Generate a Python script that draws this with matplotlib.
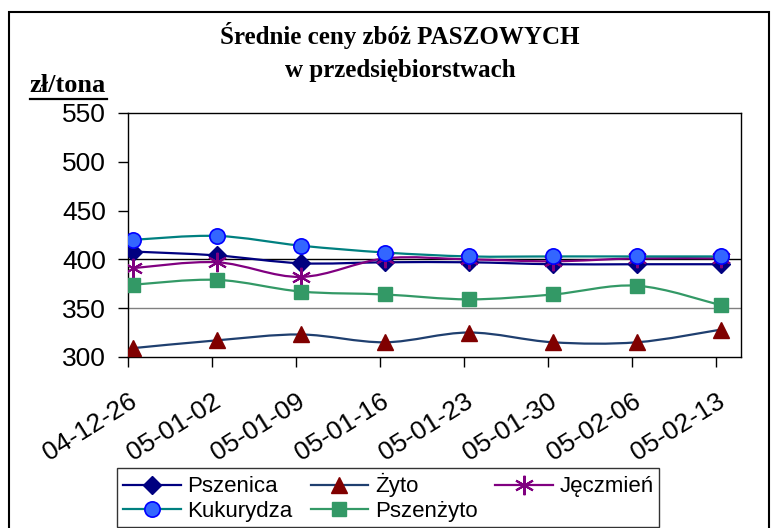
import matplotlib
matplotlib.use("Agg")
import matplotlib.pyplot as plt
from matplotlib.path import Path
from matplotlib.patches import PathPatch, Rectangle
from matplotlib.lines import Line2D

# dates (tick labels)
dates = ["04-12-26", "05-01-02", "05-01-09", "05-01-16",
         "05-01-23", "05-01-30", "05-02-06", "05-02-13"]

# prices, zl/tona
pszenica = [408, 404, 396, 397, 397, 395, 395, 395]
zyto = [309, 317, 323, 315, 325, 315, 315, 328]
jeczmien = [391, 397, 382, 401, 400, 398, 401, 401]
kukurydza = [420, 424, 414, 407, 403, 403, 403, 403]
pszenzyto = [374, 379, 367, 364, 359, 364, 373, 353]


def smooth_path(xs, ys):
    # excel-like smoothed line: cubic bezier segments through the points
    n = len(xs)
    verts = [(xs[0], ys[0])]
    codes = [Path.MOVETO]
    for i in range(n - 1):
        i0 = max(i - 1, 0)
        i3 = min(i + 2, n - 1)
        c1 = (xs[i] + (xs[i + 1] - xs[i0]) / 6, ys[i] + (ys[i + 1] - ys[i0]) / 6)
        c2 = (xs[i + 1] - (xs[i3] - xs[i]) / 6, ys[i + 1] - (ys[i3] - ys[i]) / 6)
        verts += [c1, c2, (xs[i + 1], ys[i + 1])]
        codes += [Path.CURVE4] * 3
    return Path(verts, codes)


fig = plt.figure(figsize=(7.78, 5.28), dpi=100)
ax = fig.add_axes([0.1645, 0.324, 0.788, 0.462])

series = [
    ("Pszenica", pszenica, "#000080", dict(marker="D", ms=9, mfc="#000080", mec="#000080")),
    ("Żyto", zyto, "#1F3F6F", dict(marker="^", ms=12, mfc="#800000", mec="#800000")),
    ("Jęczmień", jeczmien, "#800080", dict(marker=(6, 2, 0), ms=14, mfc="#800080", mec="#800080", mew=1.5)),
    ("Kukurydza", kukurydza, "#008080", dict(marker="o", ms=11, mfc="#3366FF", mec="#0000FF", mew=1.2)),
    ("Pszenżyto", pszenzyto, "#339966", dict(marker="s", ms=10, mfc="#339966", mec="#339966")),
]

x = list(range(len(dates)))
handles = {}
for name, vals, col, mk in series:
    ax.add_patch(PathPatch(smooth_path(x, vals), fill=False, edgecolor=col, lw=1.6, zorder=3))
    ax.plot(x, vals, linestyle="none", zorder=4, **mk)
    handles[name] = Line2D([], [], color=col, lw=1.6, **mk)

ax.axhline(400, color="black", lw=1, zorder=1)
ax.axhline(350, color="#808080", lw=1, zorder=1)

ax.set_xlim(-0.06, 7.24)
ax.set_ylim(300, 550)
ax.set_yticks(range(300, 551, 50))
# excel puts the category ticks a few pixels left of the points
ax.set_xticks([i - 0.06 for i in x])
ax.set_xticklabels(dates, rotation=32, ha="right", va="top", rotation_mode="anchor")
ax.tick_params(axis="both", labelsize=19, length=7, width=1, direction="out", colors="black")
ax.tick_params(axis="y", pad=9)
ax.tick_params(axis="x", pad=16)
for lab in ax.get_yticklabels() + ax.get_xticklabels():
    lab.set_fontfamily("Liberation Sans")
for sp in ax.spines.values():
    sp.set_color("black")
    sp.set_linewidth(1)

fig.text(0.514, 0.933, "Średnie ceny zbóż PASZOWYCH", ha="center", va="center",
         fontfamily="Liberation Serif", fontweight="bold", fontsize=18)
fig.text(0.514, 0.867, "w przedsiębiorstwach", ha="center", va="center",
         fontfamily="Liberation Serif", fontweight="bold", fontsize=18)
fig.text(0.038, 0.838, "zł/tona", ha="left", va="center",
         fontfamily="Liberation Serif", fontweight="bold", fontsize=19)
fig.add_artist(Line2D([0.038, 0.138], [0.812, 0.812], color="black", lw=1.6,
                      transform=fig.transFigure))

fig.patches.append(Rectangle((0.011, -0.01), 0.978, 0.987, transform=fig.transFigure,
                             fill=False, edgecolor="black", lw=1.5))

order = ["Pszenica", "Kukurydza", "Żyto", "Pszenżyto", "Jęczmień"]
leg = fig.legend([handles[k] for k in order], order, ncol=3, loc="upper left",
                 bbox_to_anchor=(0.151, 0.114), frameon=True, fancybox=False,
                 prop={"family": "Liberation Sans", "size": 16},
                 handlelength=2.6, columnspacing=0.8, handletextpad=0.3,
                 borderpad=0.25, labelspacing=0.15, borderaxespad=0)
leg.get_frame().set_edgecolor("black")
leg.get_frame().set_linewidth(1)

fig.savefig("out.png", dpi=100)
